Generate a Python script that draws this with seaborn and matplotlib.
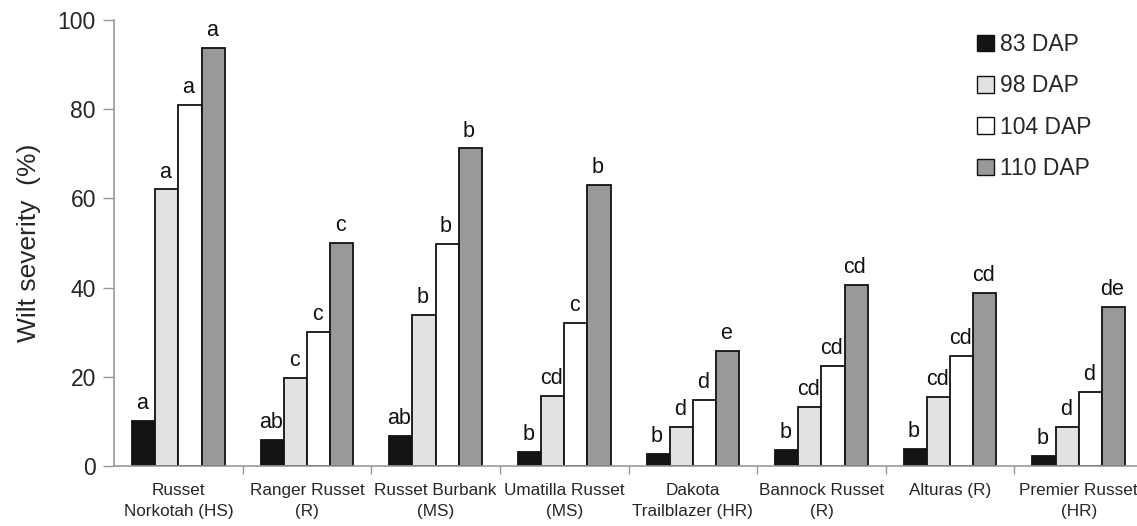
import numpy as np
import pandas as pd
import seaborn as sns
import matplotlib.pyplot as plt
from matplotlib.ticker import FixedLocator

# data
cultivars = ['Russet\nNorkotah (HS)', 'Ranger Russet\n(R)', 'Russet Burbank\n(MS)',
             'Umatilla Russet\n(MS)', 'Dakota\nTrailblazer (HR)', 'Bannock Russet\n(R)',
             'Alturas (R)', 'Premier Russet\n(HR)']
dates = ['83 DAP', '98 DAP', '104 DAP', '110 DAP']

dap83 = [10.2, 5.8, 6.7, 3.1, 2.8, 3.5, 3.9, 2.2]
dap98 = [62.0, 19.8, 33.9, 15.7, 8.7, 13.2, 15.4, 8.8]
dap104 = [81.0, 30.0, 49.7, 32.1, 14.9, 22.4, 24.7, 16.7]
dap110 = [93.8, 50.0, 71.2, 63.1, 25.9, 40.5, 38.9, 35.6]

let83 = ['a', 'ab', 'ab', 'b', 'b', 'b', 'b', 'b']
let98 = ['a', 'c', 'b', 'cd', 'd', 'cd', 'cd', 'd']
let104 = ['a', 'c', 'b', 'c', 'd', 'cd', 'cd', 'd']
let110 = ['a', 'c', 'b', 'b', 'e', 'cd', 'cd', 'de']

df = pd.DataFrame({
    'cultivar': cultivars * 4,
    'date': np.repeat(dates, len(cultivars)),
    'severity': dap83 + dap98 + dap104 + dap110,
})

sns.set_style('white')
plt.rcParams['font.family'] = ['Liberation Sans', 'DejaVu Sans']

fig = plt.figure(figsize=(11.37, 5.26), dpi=100)
ax = fig.add_axes([0.1003, 0.114, 0.8997, 0.848])

colors = ['#141414', '#e2e2e2', '#ffffff', '#999999']
sns.barplot(data=df, x='cultivar', y='severity', hue='date', order=cultivars,
            hue_order=dates, palette=colors, width=0.72, edgecolor='#111111',
            linewidth=1.3, errorbar=None, ax=ax)

# significance letters over each bar
for cont, letters in zip(ax.containers, [let83, let98, let104, let110]):
    for bar, lab in zip(cont, letters):
        ax.annotate(lab, (bar.get_x() + bar.get_width() / 2, bar.get_height()),
                    xytext=(-1, 5), textcoords='offset points',
                    ha='center', va='bottom', fontsize=15.5, color='#111111')

ax.set_ylim(0, 100)
ax.set_xlim(-0.5, 7.453)
ax.set_yticks([0, 20, 40, 60, 80, 100])
ax.tick_params(axis='y', labelsize=16.5, length=8, width=1, color='#999999',
               left=True, pad=5)
ax.set_ylabel('Wilt severity  (%)', fontsize=19, labelpad=12)
ax.set_xlabel('')

# category labels centred, tick marks at group boundaries
ax.tick_params(axis='x', which='major', length=0, labelsize=12.3, pad=12)
ax.xaxis.set_minor_locator(FixedLocator(np.arange(0.5, 7.5, 1)))
ax.tick_params(axis='x', which='minor', bottom=True, length=6, width=1,
               color='#999999')
for t in ax.get_xticklabels():
    t.set_linespacing(1.5)

for s in ['top', 'right']:
    ax.spines[s].set_visible(False)
for s in ['left', 'bottom']:
    ax.spines[s].set_color('#999999')
    ax.spines[s].set_linewidth(1.2)

leg = ax.legend(loc='upper left', bbox_to_anchor=(977 / 1137, 1 - 33 / 526),
                bbox_transform=fig.transFigure, frameon=False, borderpad=0,
                borderaxespad=0, fontsize=16.5, handlelength=0.75,
                handleheight=0.75, handletextpad=0.25, labelspacing=0.8)
for h in leg.legend_handles:
    h.set_edgecolor('#111111')
    h.set_linewidth(1.0)

fig.savefig('out.png', dpi=100)
